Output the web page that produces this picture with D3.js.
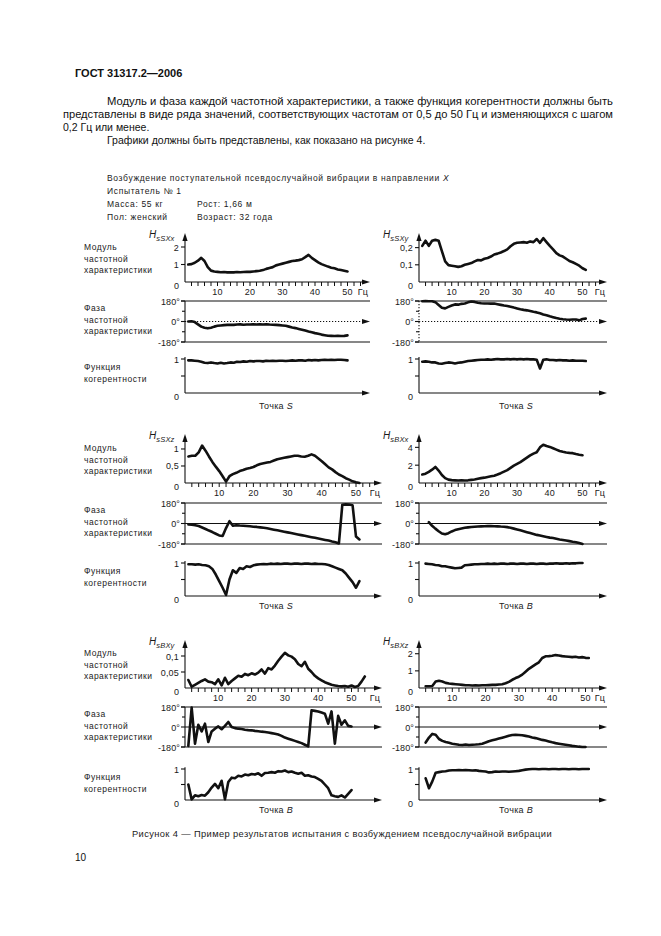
<!DOCTYPE html>
<html><head><meta charset="utf-8">
<script src="https://cdn.jsdelivr.net/npm/d3@7"></script>
<style>
body{margin:0;background:#fff}
svg{display:block}
text{font-family:"Liberation Sans",Arial,sans-serif;fill:#1a1a1a}
</style>
</head><body>
<svg id="c" width="661" height="936"></svg>
<script>
// ---------- DATA ----------
const freq = [1,2,3,4,5,6,7,8,9,10,11,12,13,14,15,16,17,18,19,20,21,22,23,24,25,26,27,28,29,30,31,32,33,34,35,36,37,38,39,40,41,42,43,44,45,46,47,48,49,50,51,52,53,54];
const xTickValues = [2,4,6,8,10,12,14,16,18,20,22,24,26,28,30,32,34,36,38,40,42,44,46,48,50,52,54];
const xTickLabels = [10,20,30,40,50];
const phaseTicks = [180,0,-180];
const phaseTickLabels = ["180°","0°","-180°"];
const phaseMinorTicks = [90,-90];
const cohTicks = [1,0.5];
const cohTickLabels = ["1",""];

// Panel 1: H sSXx (точка S)
const magSSXx = [1.0,1.02,1.1,1.22,1.38,1.2,0.85,0.65,0.6,0.58,0.56,0.57,0.55,0.56,0.55,0.57,0.56,0.57,0.58,0.58,0.6,0.62,0.64,0.68,0.75,0.8,0.85,0.95,1.0,1.05,1.1,1.15,1.2,1.22,1.25,1.3,1.42,1.55,1.38,1.25,1.12,1.02,0.95,0.88,0.82,0.78,0.72,0.68,0.64,0.6,null,null,null,null];
const phSSXx = [0,2,-5,-25,-45,-55,-60,-55,-45,-38,-35,-32,-30,-28,-30,-27,-25,-28,-26,-27,-25,-26,-24,-27,-25,-27,-28,-30,-32,-35,-38,-45,-52,-58,-65,-72,-80,-88,-95,-102,-108,-115,-120,-125,-126,-127,-125,-127,-126,-122,null,null,null,null];
const cohSSXx = [0.96,0.96,0.95,0.94,0.92,0.89,0.88,0.9,0.88,0.87,0.89,0.87,0.88,0.9,0.89,0.92,0.91,0.93,0.92,0.94,0.93,0.94,0.94,0.93,0.95,0.94,0.95,0.94,0.95,0.95,0.94,0.95,0.96,0.95,0.96,0.96,0.95,0.97,0.96,0.97,0.96,0.97,0.98,0.97,0.98,0.97,0.98,0.98,0.97,0.96,null,null,null,null];
const magTicksSSXx = [1,2], magLabelsSSXx = ["1","2"];

// Panel 2: H sSXy (точка S)
const magSSXy = [0.21,0.24,0.21,0.24,0.245,0.24,0.18,0.12,0.098,0.095,0.092,0.088,0.092,0.1,0.105,0.11,0.12,0.128,0.126,0.135,0.14,0.148,0.16,0.165,0.172,0.18,0.19,0.208,0.222,0.228,0.23,0.232,0.228,0.236,0.232,0.25,0.228,0.255,0.232,0.21,0.19,0.168,0.155,0.148,0.135,0.122,0.115,0.105,0.095,0.08,0.07,null,null,null];
const phSSXy = [178,180,178,178,170,145,120,115,128,140,150,148,155,158,168,176,172,165,160,158,158,157,158,152,146,140,136,130,122,115,108,102,98,92,85,80,72,62,55,46,38,30,24,20,17,16,18,17,10,22,25,null,null,null];
const cohSSXy = [0.92,0.93,0.92,0.9,0.9,0.87,0.86,0.88,0.9,0.89,0.87,0.89,0.9,0.92,0.94,0.95,0.96,0.97,0.98,0.98,0.99,0.98,0.99,1.0,0.99,0.99,1.0,0.99,1.0,0.99,1.0,0.99,1.0,0.99,0.99,0.98,0.72,0.98,0.99,0.97,0.97,0.96,0.97,0.96,0.96,0.95,0.96,0.95,0.95,0.95,0.94,null,null,null];
const magTicksSSXy = [0.1,0.2], magLabelsSSXy = ["0,1","0,2"];

// Panel 3: H sSXz (точка S)
const magSSXz = [0.78,0.8,0.8,0.9,1.1,0.95,0.78,0.62,0.48,0.35,0.2,0.04,0.2,0.26,0.3,0.35,0.38,0.42,0.44,0.47,0.52,0.56,0.58,0.6,0.62,0.66,0.7,0.72,0.74,0.76,0.78,0.8,0.8,0.78,0.77,0.8,0.84,0.8,0.72,0.64,0.55,0.46,0.4,0.32,0.25,0.2,0.14,0.1,0.05,0.02,0.0,null,null,null];
const phSSXz = [-8,-10,-15,-22,-35,-48,-62,-75,-90,-105,-110,-40,20,-20,-15,-18,-20,-22,-24,-28,-30,-34,-38,-42,-48,-54,-60,-66,-72,-78,-84,-90,-96,-102,-108,-114,-120,-126,-132,-138,-144,-150,-158,-165,-175,165,168,166,160,-115,-140,null,null,null];
const cohSSXz = [0.96,0.96,0.95,0.96,0.94,0.93,0.9,0.82,0.65,0.45,0.25,0.03,0.5,0.78,0.7,0.85,0.82,0.9,0.88,0.93,0.95,0.96,0.97,0.96,0.98,0.97,0.98,0.97,0.98,0.98,0.97,0.98,0.98,0.97,0.98,0.98,0.97,0.98,0.97,0.97,0.96,0.94,0.9,0.86,0.82,0.78,0.68,0.55,0.42,0.25,0.45,null,null,null];
const magTicksSSXz = [0.5,1], magLabelsSSXz = ["0,5","1"];

// Panel 4: H sBXx (точка B)
const magSBXx = [0.95,1.05,1.25,1.5,1.8,1.4,0.9,0.55,0.38,0.32,0.3,0.28,0.3,0.28,0.3,0.35,0.4,0.48,0.55,0.6,0.68,0.75,0.82,0.95,1.1,1.28,1.45,1.7,1.95,2.15,2.35,2.6,2.85,3.1,3.3,3.45,4.0,4.3,4.15,4.05,3.9,3.75,3.6,3.5,3.42,3.38,3.35,3.25,3.18,3.12,null,null,null,null];
const phSBXx = [null,null,12,-20,-45,-68,-88,-95,-85,-70,-58,-50,-44,-38,-34,-31,-29,-27,-25,-24,-23,-23,-24,-25,-27,-28,-32,-38,-45,-52,-60,-68,-76,-84,-92,-100,-106,-112,-118,-124,-128,-134,-140,-145,-150,-155,-160,-164,-172,-180,null,null,null,null];
const cohSBXx = [null,0.98,0.97,0.96,0.94,0.93,0.9,0.9,0.88,0.86,0.84,0.85,0.86,0.93,0.94,0.95,0.96,0.96,0.97,0.97,0.98,0.97,0.98,0.97,0.98,0.98,0.97,0.98,0.98,0.97,0.98,0.98,0.97,0.98,0.98,0.97,0.98,0.98,0.97,0.98,0.98,0.99,0.98,0.98,0.99,0.98,0.99,0.99,1.0,1.0,null,null,null,null];
const magTicksSBXx = [2,4], magLabelsSBXx = ["2","4"];

// Panel 5: H sBXy (точка B)
const magSBXy = [0.025,0.004,0.01,0.016,0.022,0.027,0.02,0.018,0.012,0.027,0.008,0.032,0.012,0.022,0.03,0.038,0.035,0.044,0.04,0.046,0.042,0.048,0.058,0.045,0.062,0.058,0.07,0.085,0.098,0.11,0.102,0.098,0.09,0.075,0.068,0.082,0.06,0.05,0.038,0.03,0.024,0.018,0.014,0.01,0.008,0.006,0.005,0.006,0.004,0.008,0.003,0.006,0.02,0.036];
const phSBXy = [-170,175,-150,20,-40,30,-135,-40,-15,5,-20,10,45,0,-10,-15,-18,-25,-28,-30,-35,-38,-42,-45,-50,-55,-60,-68,-80,-95,-105,-115,-125,-135,-145,-160,-175,150,145,140,130,120,30,140,-150,100,20,60,10,5,null,null,null,null];
const cohSBXy = [0.5,0.02,0.15,0.12,0.16,0.14,0.25,0.4,0.52,0.38,0.62,0.02,0.58,0.72,0.7,0.78,0.76,0.82,0.8,0.84,0.82,0.86,0.78,0.87,0.88,0.9,0.88,0.93,0.92,0.95,0.9,0.92,0.88,0.85,0.88,0.78,0.8,0.76,0.74,0.68,0.62,0.5,0.38,0.15,0.12,0.1,0.15,0.08,0.2,0.32,null,null,null,null];
const magTicksSBXy = [0.05,0.1], magLabelsSBXy = ["0,05","0,1"];

// Panel 6: H sBXz (точка B)
const magSBXz = [null,0.1,0.1,0.12,0.38,0.42,0.38,0.3,0.26,0.24,0.22,0.2,0.18,0.16,0.16,0.15,0.16,0.15,0.16,0.16,0.17,0.18,0.18,0.2,0.22,0.28,0.36,0.48,0.58,0.66,0.78,0.95,1.12,1.25,1.38,1.5,1.75,1.85,1.86,1.88,1.92,1.9,1.86,1.84,1.82,1.8,1.82,1.78,1.8,1.76,1.75,null,null,null];
const phSBXz = [null,-140,-95,-62,-70,-108,-125,-135,-142,-150,-155,-160,-162,-158,-162,-160,-158,-155,-150,-140,-128,-120,-112,-104,-96,-88,-78,-72,-70,-72,-74,-80,-86,-94,-100,-108,-116,-122,-130,-138,-145,-150,-155,-160,-165,-170,-173,-177,-180,-180,null,null,null,null];
const cohSBXz = [null,0.7,0.38,0.6,0.88,0.9,0.92,0.93,0.95,0.96,0.96,0.97,0.96,0.97,0.96,0.95,0.96,0.94,0.93,0.92,0.89,0.9,0.92,0.91,0.92,0.92,0.91,0.92,0.93,0.94,0.96,0.98,0.99,1.0,1.0,0.99,1.0,1.0,0.99,1.0,1.0,0.99,1.0,1.0,0.99,1.0,1.0,0.99,1.0,1.0,1.0,null,null,null];
const magTicksSBXz = [1,2], magLabelsSBXz = ["1","2"];

// ---------- LAYOUT ----------
const ROWS = [
  {magTip:233, mag0:282, phTop:301, phBot:342, coh1:359, coh0:393, pt:409, dotted:true},
  {magTip:434, mag0:483, phTop:503, phBot:544, coh1:563, coh0:596, pt:609, dotted:false},
  {magTip:640, mag0:688, phTop:707, phBot:747, coh1:769, coh0:800, pt:813, dotted:false}
];
const COLS = [185, 419];

const panels = [
  {row:0,col:0,sub:"sSXx",mag:magSSXx,ph:phSSXx,coh:cohSSXx,magMax:2.8,mt:magTicksSSXx,ml:magLabelsSSXx,pxHz:3.25,xEnd:370,pt:"S",dotAxis:false},
  {row:0,col:1,sub:"sSXy",mag:magSSXy,ph:phSSXy,coh:cohSSXy,magMax:0.285,mt:magTicksSSXy,ml:magLabelsSSXy,pxHz:3.27,xEnd:607,pt:"S",dotAxis:true},
  {row:1,col:0,sub:"sSXz",mag:magSSXz,ph:phSSXz,coh:cohSSXz,magMax:1.44,mt:magTicksSSXz,ml:magLabelsSSXz,pxHz:3.42,xEnd:382,pt:"S",dotAxis:false},
  {row:1,col:1,sub:"sBXx",mag:magSBXx,ph:phSBXx,coh:cohSBXx,magMax:5.5,mt:magTicksSBXx,ml:magLabelsSBXx,pxHz:3.27,xEnd:607,pt:"B",dotAxis:false},
  {row:2,col:0,sub:"sBXy",mag:magSBXy,ph:phSBXy,coh:cohSBXy,magMax:0.15,mt:magTicksSBXy,ml:magLabelsSBXy,pxHz:3.33,xEnd:382,pt:"B",dotAxis:false},
  {row:2,col:1,sub:"sBXz",mag:magSBXz,ph:phSBXz,coh:cohSBXz,magMax:2.8,mt:magTicksSBXz,ml:magLabelsSBXz,pxHz:3.33,xEnd:607,pt:"B",dotAxis:false}
];

const svg = d3.select("#c");
const FIG = {size:"8.5px", ls:"0.65px", fill:"#222"};
const LW = 2.6;

function t(g, x, y, s, o={}){
  const e = g.append("text").attr("x",x).attr("y",y).text(s)
    .style("font-size", o.size||FIG.size)
    .style("letter-spacing", o.ls!==undefined?o.ls:FIG.ls)
    .attr("text-anchor", o.anchor||"start");
  if(o.weight) e.style("font-weight",o.weight);
  if(o.fill) e.style("fill",o.fill);
  if(o.len) e.attr("textLength",o.len).attr("lengthAdjust","spacingAndGlyphs");
  return e;
}
function ln(g,x1,y1,x2,y2,w=1.1,dash=null){
  const e=g.append("line").attr("x1",x1).attr("y1",y1).attr("x2",x2).attr("y2",y2)
    .attr("stroke","#111").attr("stroke-width",w);
  if(dash) e.attr("stroke-dasharray",dash);
  return e;
}
function arrowR(g,x,y){g.append("path").attr("d",`M${x},${y}L${x-8},${y-2.6}L${x-8},${y+2.6}Z`).attr("fill","#111");}
function arrowU(g,x,y){g.append("path").attr("d",`M${x},${y}L${x-2.6},${y+8}L${x+2.6},${y+8}Z`).attr("fill","#111");}

// ---------- PAGE TEXT ----------
const page = svg.append("g");
t(page,75,77,"ГОСТ 31317.2—2006",{size:"11px",weight:"bold",ls:"0px",fill:"#111"});
t(page,107,105,"Модуль и фаза каждой частотной характеристики, а также функция когерентности должны быть",{size:"10.5px",ls:"0px",fill:"#111",len:506});
t(page,63,118,"представлены в виде ряда значений, соответствующих частотам от 0,5 до 50 Гц и изменяющихся с шагом",{size:"10.5px",ls:"0px",fill:"#111",len:550});
t(page,63,131,"0,2 Гц или менее.",{size:"10.5px",ls:"0px",fill:"#111"});
t(page,107,144,"Графики должны быть представлены, как показано на рисунке 4.",{size:"10.5px",ls:"0px",fill:"#111"});

const info = t(page,107,181,"Возбуждение поступательной псевдослучайной вибрации в направлении ");
info.append("tspan").style("font-style","italic").text("X");
t(page,107,194,"Испытатель № 1");
t(page,107,207,"Масса: 55 кг");
t(page,197,207,"Рост: 1,66 м");
t(page,107,220,"Пол: женский");
t(page,197,220,"Возраст: 32 года");

t(page,132,837,"Рисунок 4 —  Пример результатов испытания с возбуждением псевдослучайной вибрации",{size:"8.5px",ls:"0.35px",len:420});
t(page,75,861,"10",{size:"10px",ls:"0px",fill:"#111"});

// left row labels
const LABX = 84, LH = 11.5;
ROWS.forEach(r=>{
  const g = svg.append("g");
  ["Модуль","частотной","характеристики"].forEach((s,i)=>t(g,LABX,r.mag0-32+i*LH,s,{ls:"0.5px"}));
  ["Фаза","частотной","характеристики"].forEach((s,i)=>t(g,LABX,r.phTop+10+i*LH,s,{ls:"0.5px"}));
  ["Функция","когерентности"].forEach((s,i)=>t(g,LABX,r.coh1+11+i*LH,s,{ls:"0.5px"}));
});

// ---------- PANELS ----------
const rows = freq.map((f,i)=>i);
panels.forEach(p=>{
  const r = ROWS[p.row], x0 = COLS[p.col];
  const g = svg.append("g");
  const x = d3.scaleLinear().domain([0,50]).range([x0, x0+50*p.pxHz]);

  // ---- magnitude ----
  const ym = d3.scaleLinear().domain([0,p.magMax]).range([r.mag0, r.magTip]);
  ln(g,x0,r.mag0,p.xEnd-4,r.mag0); arrowR(g,p.xEnd,r.mag0);
  ln(g,x0,r.mag0,x0,r.magTip+4); arrowU(g,x0,r.magTip);
  xTickValues.filter(f=>x(f)<p.xEnd-9).forEach(f=>ln(g,x(f),r.mag0,x(f),r.mag0+4,1));
  xTickLabels.forEach(f=>t(g,x(f),r.mag0+13,String(f),{anchor:"middle",size:"9px",ls:"0.2px"}));
  t(g,p.xEnd-7,r.mag0+13,"Гц",{anchor:"middle",size:"9px",ls:"0.2px"});
  t(g,x0-6,r.mag0+7,"0",{anchor:"end",size:"9px",ls:"0px"});
  p.mt.forEach((v,i)=>{ ln(g,x0-4,ym(v),x0,ym(v)); t(g,x0-6,ym(v)+3.5,p.ml[i],{anchor:"end",size:"9px",ls:"0.2px"}); });
  const hl = t(g,x0-36,r.magTip+5,"H",{size:"10px",ls:"0px"}).style("font-style","italic");
  hl.append("tspan").attr("dy",3).style("font-size","7.5px").style("letter-spacing","0.2px").text(p.sub);
  g.append("path").datum(rows)
    .attr("d",d3.line().defined(i=>p.mag[i]!=null).x(i=>x(freq[i])).y(i=>ym(p.mag[i])))
    .attr("fill","none").attr("stroke","#111").attr("stroke-width",LW).attr("stroke-linejoin","round").attr("stroke-linecap","round");

  // ---- phase ----
  const yp = d3.scaleLinear().domain([-180,180]).range([r.phBot, r.phTop]);
  ln(g,x0-4,yp(180),p.xEnd,yp(180));
  ln(g,x0-4,yp(-180),p.xEnd,yp(-180));
  ln(g,x0,yp(0),p.xEnd-4,yp(0),1.1,r.dotted?"1.2,1.8":null); arrowR(g,p.xEnd,yp(0));
  ln(g,x0,yp(180),x0,yp(-180),1.1,p.dotAxis?"1.2,1.8":null);
  phaseTicks.forEach((v,i)=>{ ln(g,x0-4,yp(v),x0,yp(v)); t(g,x0-5,yp(v)+3.5,phaseTickLabels[i],{anchor:"end",size:"9px",ls:"0.1px"}); });
  phaseMinorTicks.forEach(v=>ln(g,x0-3,yp(v),x0,yp(v)));
  g.append("path").datum(rows)
    .attr("d",d3.line().defined(i=>p.ph[i]!=null).x(i=>x(freq[i])).y(i=>yp(p.ph[i])))
    .attr("fill","none").attr("stroke","#111").attr("stroke-width",LW).attr("stroke-linejoin","round").attr("stroke-linecap","round");

  // ---- coherence ----
  const yc = d3.scaleLinear().domain([0,1]).range([r.coh0, r.coh1]);
  ln(g,x0,r.coh0,p.xEnd-4,r.coh0); arrowR(g,p.xEnd,r.coh0);
  ln(g,x0,r.coh0,x0,yc(1.06));
  cohTicks.forEach((v,i)=>{ ln(g,x0-4,yc(v),x0,yc(v)); if(cohTickLabels[i]) t(g,x0-6,yc(v)+3.5,cohTickLabels[i],{anchor:"end",size:"9px",ls:"0px"}); });
  t(g,x0-6,r.coh0+7,"0",{anchor:"end",size:"9px",ls:"0px"});
  g.append("path").datum(rows)
    .attr("d",d3.line().defined(i=>p.coh[i]!=null).x(i=>x(freq[i])).y(i=>yc(p.coh[i])))
    .attr("fill","none").attr("stroke","#111").attr("stroke-width",LW).attr("stroke-linejoin","round").attr("stroke-linecap","round");

  const pl = t(g,x0+(p.col?97:91),r.pt,"Точка ",{anchor:"middle",size:"9px",ls:"0.3px"});
  pl.append("tspan").style("font-style","italic").text(p.pt);
});
</script>
</body></html>
